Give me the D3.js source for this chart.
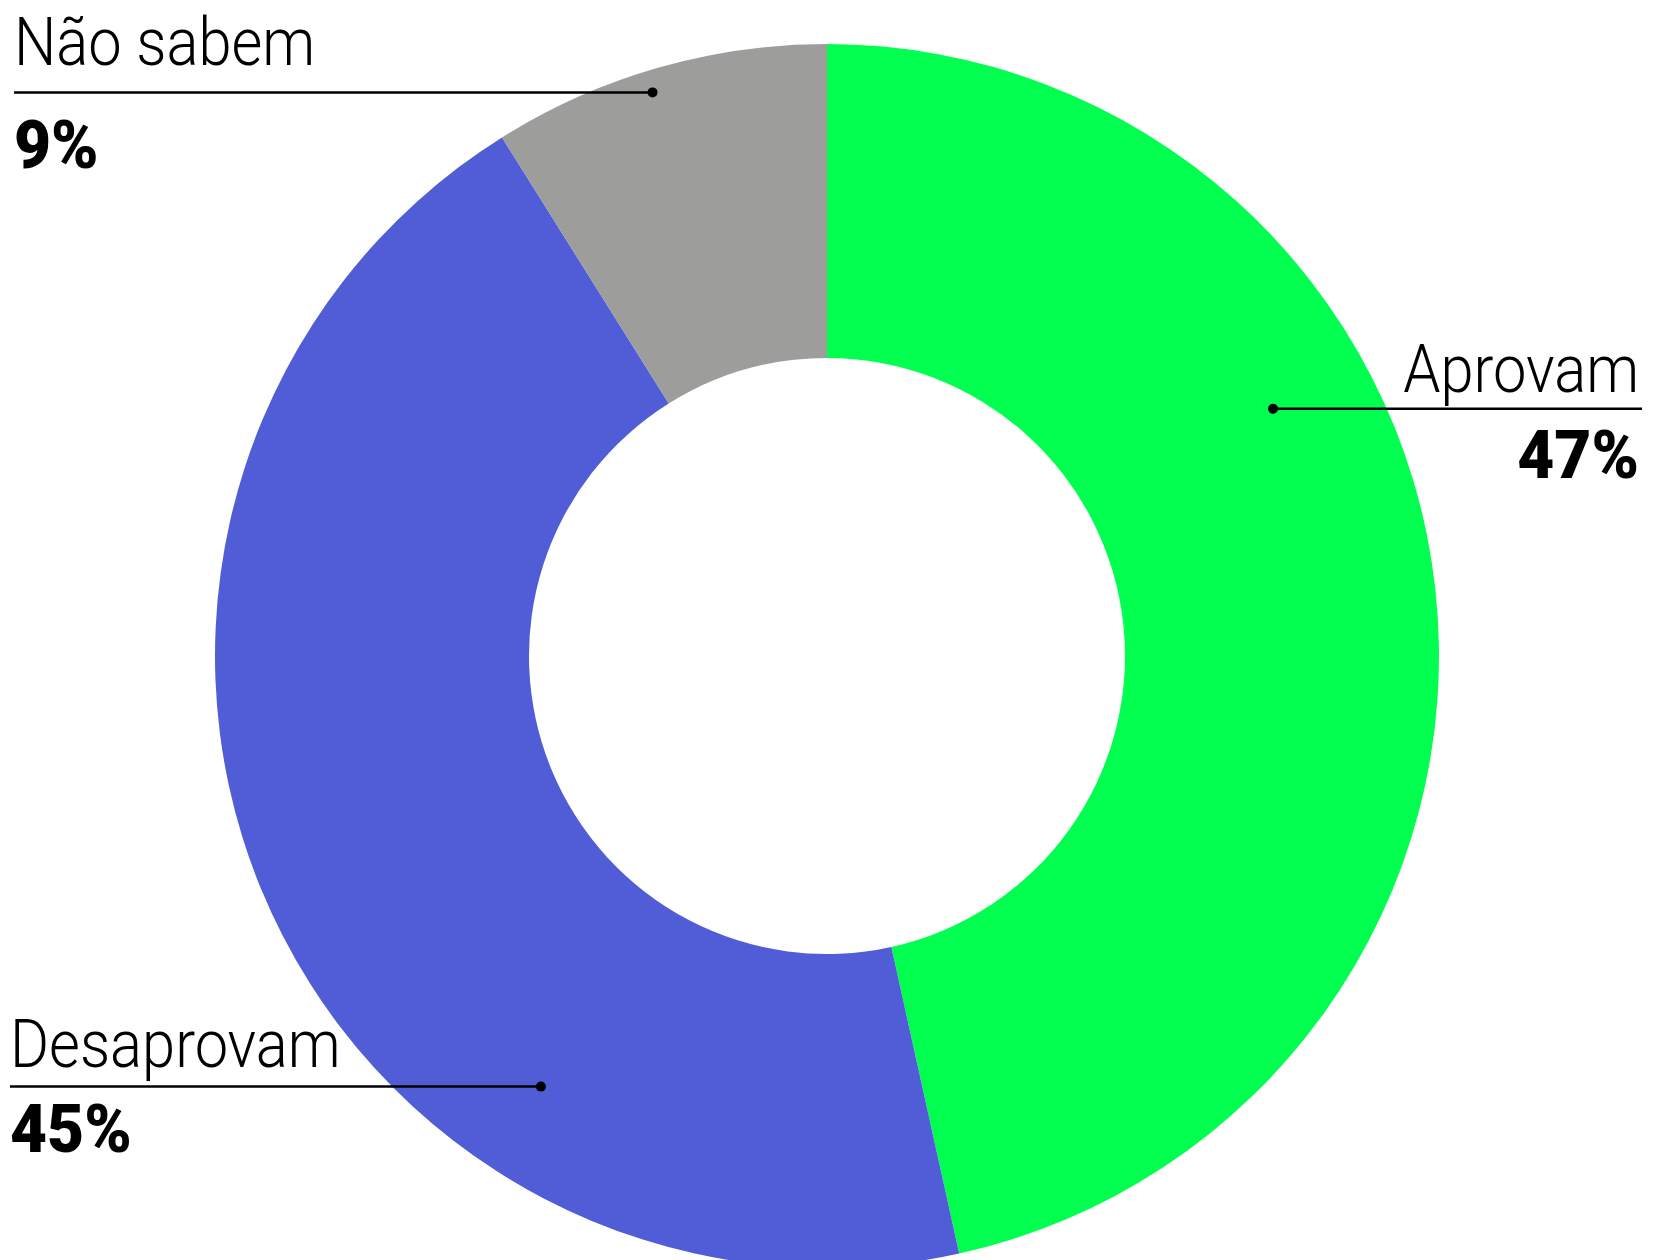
<!DOCTYPE html>
<html>
<head>
<meta charset="utf-8">
<script src="https://cdn.jsdelivr.net/npm/d3@7"></script>
<style>
  body { margin: 0; background: #fff; overflow: hidden; }
  text { font-family: Roboto, "Liberation Sans Narrow", sans-serif; fill: #000; }
</style>
</head>
<body>
<svg width="1665" height="1260"></svg>
<script>
// data
var categories = ["Aprovam", "Desaprovam", "Não sabem"];
var values = [47, 45, 9];
var pctLabels = ["47%", "45%", "9%"];
var colors = ["#00ff4f", "#505dd6", "#9d9d9c"];

var svg = d3.select("svg"),
    width = +svg.attr("width"),
    height = +svg.attr("height");

var cx = 827, cy = 656;
var outerR = 612, innerR = 298;

var data = categories.map(function(c, i) {
    return { name: c, value: values[i], pct: pctLabels[i], color: colors[i] };
});

var pie = d3.pie().sort(null).value(d => d.value);
var arc = d3.arc().innerRadius(innerR).outerRadius(outerR);

var g = svg.append("g").attr("transform", `translate(${cx},${cy})`);

g.selectAll("path")
    .data(pie(data))
    .enter().append("path")
    .attr("d", arc)
    .attr("fill", d => d.data.color);

// label placement (angle in degrees clockwise from top, radius of the dot)
var labelLayout = {
    "Aprovam":    { angle: 61,    r: 510, side: "right", edge: 1642, titleDy: -17, pctDy: 69 },
    "Desaprovam": { angle: 213.6, r: 517, side: "left",  edge: 10,   titleDy: -20, pctDy: 65 },
    "Não sabem":  { angle: -17.2, r: 590, side: "left",  edge: 14,   titleDy: -27, pctDy: 76 }
};

var sxTitle = 0.89, sxPct = 0.97;

data.forEach(function(d) {
    var L = labelLayout[d.name];
    var p = d3.pointRadial(L.angle * Math.PI / 180, L.r);
    var dotX = cx + p[0], dotY = cy + p[1];
    var lab = svg.append("g").attr("class", "label");

    lab.append("line")
        .attr("x1", L.edge).attr("x2", dotX)
        .attr("y1", dotY).attr("y2", dotY)
        .attr("stroke", "#000")
        .attr("stroke-width", 2.5);
    lab.append("circle")
        .attr("cx", dotX).attr("cy", dotY).attr("r", 5)
        .attr("fill", "#000");

    var anchor = L.side === "right" ? "end" : "start";
    var tx = L.side === "right" ? L.edge - 3 : L.edge;

    lab.append("text")
        .attr("transform", `translate(${tx},${dotY + L.titleDy}) scale(${sxTitle},1)`)
        .attr("text-anchor", anchor)
        .style("font-size", "67px")
        .style("font-weight", 300)
        .text(d.name);

    lab.append("text")
        .attr("transform", `translate(${tx},${dotY + L.pctDy}) scale(${sxPct},1)`)
        .attr("text-anchor", anchor)
        .style("font-size", "66px")
        .style("font-weight", 900)
        .text(d.pct);
});
</script>
</body>
</html>
